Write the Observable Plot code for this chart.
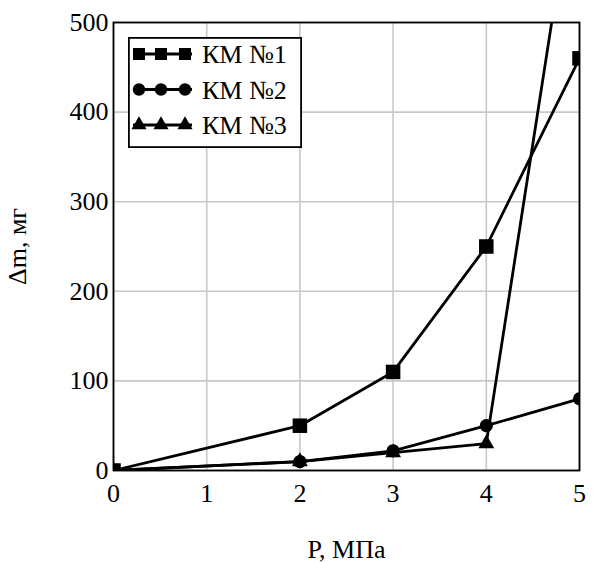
<!DOCTYPE html>
<html><head>
<meta charset="utf-8">
<script src="https://cdn.jsdelivr.net/npm/d3@7"></script>
<script src="https://cdn.jsdelivr.net/npm/@observablehq/plot@0.6"></script>
<style>
body{margin:0;background:#fff}
#c{position:relative;width:593px;height:562px}
#legend{position:absolute;left:128px;top:37px}
#c svg, #c svg text{font-family:"Liberation Serif","Times New Roman",serif !important}
</style>
</head><body><div id="c"></div>
<script>
// Data
const pressure = [0, 2, 3, 4, 5];
const km1 = [0, 50, 110, 250, 460];
const km2 = [0, 10, 22, 50, 80];
const km3 = [0, 10, 20, 30, 700];
const seriesNames = ["КМ №1", "КМ №2", "КМ №3"];
const symbols = ["square", "circle", "triangle"];
const xTicks = [0, 1, 2, 3, 4, 5];
const yTicks = [0, 100, 200, 300, 400, 500];

const seriesValues = [km1, km2, km3];
const rows = [];
seriesValues.forEach((vals, i) => {
  vals.forEach((v, j) => rows.push({P: pressure[j], dm: v, series: seriesNames[i], sym: symbols[i]}));
});

const font = "Liberation Serif";
const symR = {square: 8.2, circle: 6.6, triangle: 5.9};

const chart = Plot.plot({
  width: 593,
  height: 562,
  marginLeft: 113,
  marginRight: 14,
  marginTop: 22,
  marginBottom: 92,
  style: {fontFamily: font, fontSize: "26px", color: "#000", background: "#fff"},
  x: {domain: [0, 5]},
  y: {domain: [0, 500]},
  symbol: {domain: seriesNames, range: symbols},
  marks: [
    Plot.gridX(xTicks, {stroke: "#c8c8c8", strokeOpacity: 1, strokeWidth: 1.6}),
    Plot.gridY(yTicks, {stroke: "#c8c8c8", strokeOpacity: 1, strokeWidth: 1.6}),
    Plot.line(rows, {x: "P", y: "dm", z: "series", stroke: "#000", strokeWidth: 2.8, clip: true}),
    ...symbols.map(s => Plot.dot(rows.filter(d => d.sym === s), {x: "P", y: "dm", symbol: "series", fill: "#000", r: symR[s], clip: true})),
    Plot.frame({stroke: "#000", strokeWidth: 1.8}),
    Plot.axisX(xTicks, {tickSize: 0, tickPadding: 13, label: "P, МПа", labelAnchor: "center", labelArrow: "none", labelOffset: 87, fontSize: 26}),
    Plot.axisY(yTicks, {tickSize: 0, tickPadding: 5, label: "Δm, мг", labelAnchor: "center", labelArrow: "none", labelOffset: 106, fontSize: 26})
  ]
});
document.getElementById("c").appendChild(chart);
d3.select(chart).selectAll("text").attr("font-family", font).style("font-family", font);

// Legend overlay
const lw = 174, lh = 111;
const leg = d3.select("#c").append("svg").attr("id", "legend").attr("width", lw).attr("height", lh);
leg.append("rect").attr("x", 0.9).attr("y", 0.9).attr("width", lw - 1.8).attr("height", lh - 1.8)
  .attr("fill", "#fff").attr("stroke", "#000").attr("stroke-width", 1.8);
const symMap = {square: d3.symbolSquare, circle: d3.symbolCircle, triangle: d3.symbolTriangle};
const legR = {square: 6.8, circle: 6.2, triangle: 5.6};
seriesNames.forEach((name, i) => {
  const y = 17 + i * 35.5;
  const g = leg.append("g").attr("transform", `translate(0,${y})`);
  g.append("line").attr("x1", 5).attr("x2", 64).attr("y1", 0).attr("y2", 0).attr("stroke", "#000").attr("stroke-width", 2.8);
  const r = legR[symbols[i]];
  [11, 33, 57].forEach(x => {
    g.append("path").attr("d", d3.symbol(symMap[symbols[i]], Math.PI * r * r)())
      .attr("transform", `translate(${x},0)`).attr("fill", "#000");
  });
  g.append("text").attr("x", 74).attr("y", 0).attr("dy", "0.35em")
    .attr("font-family", font).attr("font-size", 26).attr("fill", "#000").text(name);
});
</script>
</body></html>
